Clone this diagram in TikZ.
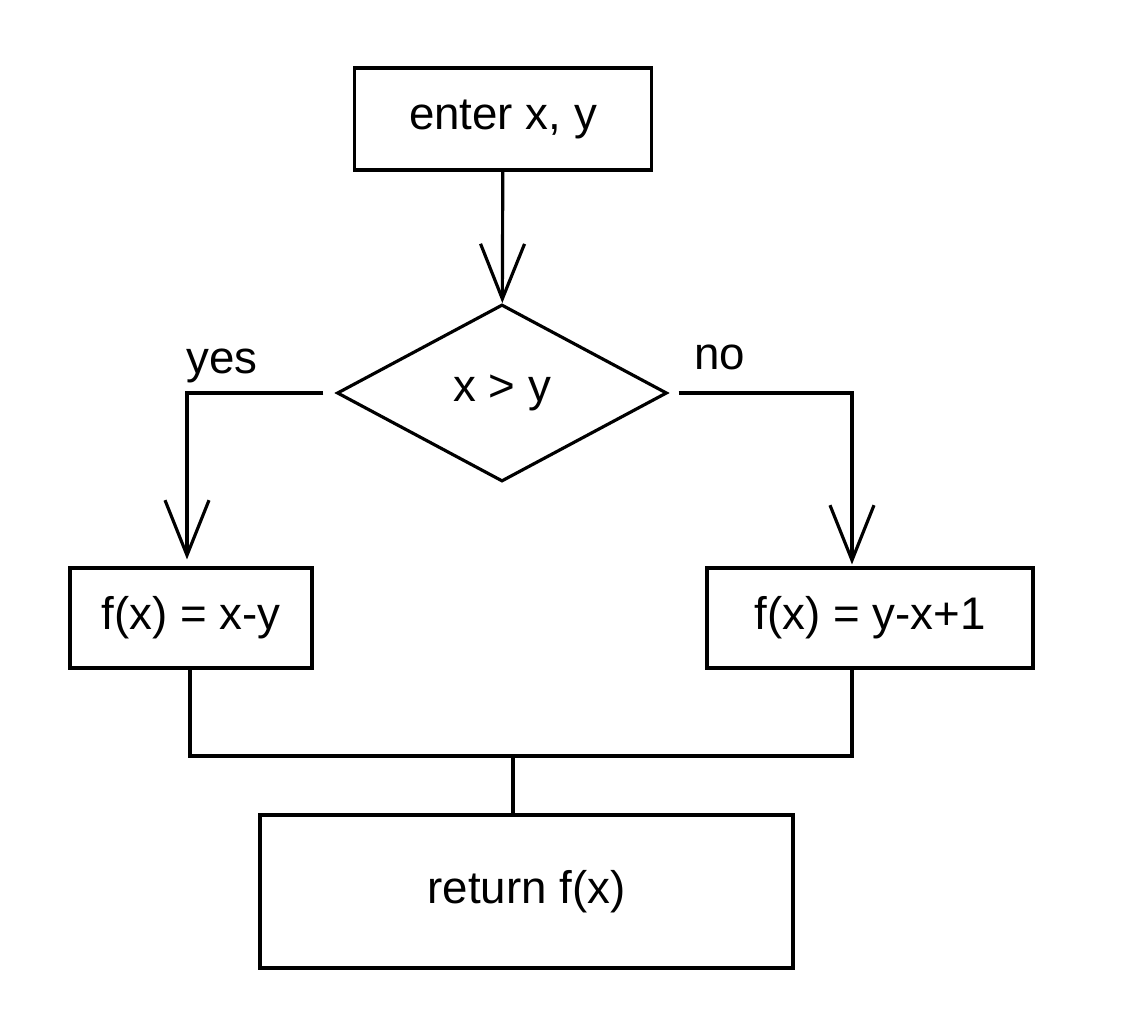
\documentclass[tikz,border=0pt]{standalone}
\usepackage{fontspec}
\setmainfont{Liberation Sans}
\usetikzlibrary{arrows.meta,%
	shapes.geometric}

\begin{document}
\begin{tikzpicture}[main_box/.style={rectangle,draw,line width=0.9pt,inner sep=3pt,font=\fontsize{13}{15}\selectfont},
	main_test/.style={diamond,draw,line width=0.9pt,inner sep=0pt,font=\fontsize{13}{15}\selectfont},
	main_line/.style={line width=0.9pt},
	main_arrow/.style={line width=0.9pt,-{Straight Barb[length=5.5mm,width=4.4mm]}}]
		
		\useasboundingbox (0,0) rectangle (11.28,-10.22);
		
		\node[main_box,minimum width=2.97cm,minimum height=1.02cm] (enter) at (5.03,-1.19) {enter x, y};
		\node[main_test,minimum width=3.3cm,minimum height=1.77cm] (test) at (5.02,-3.93) {x > y};
		\node[main_box,minimum width=2.42cm,minimum height=1.0cm] (yesbox) at (1.91,-6.18) {f(x) = x-y};
		\node[main_box,minimum width=3.26cm,minimum height=1.0cm] (nobox) at (8.70,-6.18) {f(x) = y-x+1};
		\node[main_box,minimum width=5.33cm,minimum height=1.53cm] (ret) at (5.265,-8.915) {return f(x)};
		
		\node[font=\fontsize{13}{15}\selectfont] (yes) at (2.22,-3.66) {yes};
		\node[font=\fontsize{13}{15}\selectfont] (no) at (7.20,-3.57) {no};
		
		\coordinate (join) at (5.13,-7.56);
		

		\draw[main_arrow] (enter) -- (test);
		\draw[main_arrow,shorten >=0.07cm] ([xshift=-0.12cm]test.west) -| ([xshift=-0.04cm]yesbox.north);
		\draw[main_arrow,shorten >=0.02cm] ([xshift=0.1cm]test.east) -| ([xshift=-0.18cm]nobox.north);
		\draw[main_line] ([xshift=-0.01cm]yesbox.south) |- (join);
		\draw[main_line] ([xshift=-0.18cm]nobox.south) |- (join);
		\draw[main_line] (join) -- (join |- ret.north);
		\end{tikzpicture}
\end{document}
